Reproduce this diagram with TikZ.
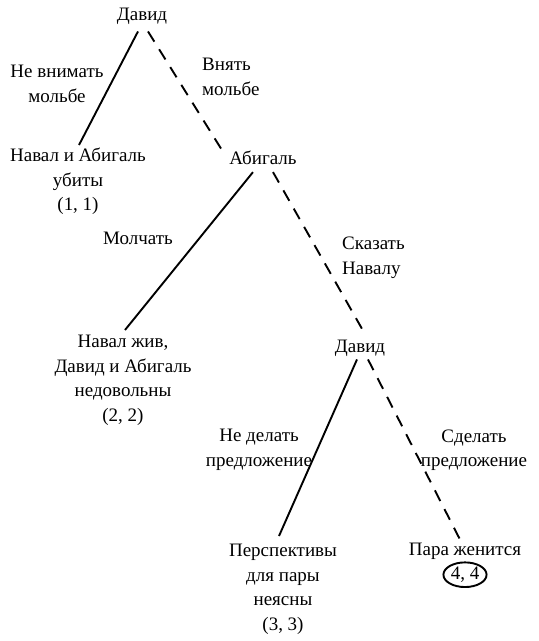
\documentclass[tikz,border=0pt]{standalone}
\usepackage{fontspec}
\setmainfont{Liberation Serif}
\usetikzlibrary{shapes.geometric}

\tikzset{
  txt/.style={font=\fontsize{19}{24.5}\selectfont, align=center, inner sep=0pt},
  lft/.style={txt, align=left, anchor=west},
  move/.style={line width=1.9pt},
  altmove/.style={line width=1.9pt, dash pattern=on 12pt off 9pt},
  best/.style={ellipse, draw, line width=1.9pt, inner sep=1pt}
}

\begin{document}
\begin{tikzpicture}[x=1pt,y=-1pt]
  \useasboundingbox (0,0) rectangle (539,641);

  % decision nodes
  \node[txt] (david1) at (142,16) {Давид};
  \node[txt] (abig) at (263,158) {Абигаль};
  \node[txt] (david2) at (360,348) {Давид};

  % outcomes
  \node[txt, anchor=north] (killed) at (78,148) {Навал и Абигаль\\убиты\\(1, 1)};
  \node[txt, anchor=north] (unhappy) at (123,335) {Навал жив,\\Давид и Абигаль\\недовольны\\(2, 2)};
  \node[txt, anchor=north] (unclear) at (283,544) {Перспективы\\для пары\\неясны\\(3, 3)};
  \node[txt] (married) at (465,551) {Пара женится};
  \node[txt, best, below=2pt] (win) at (married.south) {4, 4};

  % moves
  \draw[move] ([xshift=-4pt,yshift=-7pt]david1.south) -- ([xshift=1pt,yshift=3pt]killed.north);
  \draw[altmove] ([xshift=6pt,yshift=-7pt]david1.south) -- ([xshift=-8pt,yshift=2pt]abig.north west);
  \draw[move] ([xshift=-10pt,yshift=-7pt]abig.south) -- ([xshift=2pt,yshift=5pt]unhappy.north);
  \draw[altmove] ([xshift=10pt,yshift=-7pt]abig.south) -- ([xshift=3pt,yshift=9pt]david2.north);
  \draw[move] ([xshift=-3pt,yshift=-3pt]david2.south) -- ([xshift=-4pt,yshift=8pt]unclear.north);
  \draw[altmove] ([xshift=8pt,yshift=-3pt]david2.south) -- ([xshift=-5pt,yshift=3pt]married.north);

  % move labels
  \node[txt] (l1) at (57,84) {Не внимать\\мольбе};
  \node[lft] (l2) at (202,77) {Внять\\мольбе};
  \node[txt] (l3) at (138,238) {Молчать};
  \node[lft] (l4) at (342,258) {Сказать\\Навалу};
  \node[txt] (l5) at (259,450) {Не делать\\предложение};
  \node[txt] (l6) at (474,450) {Сделать\\предложение};
\end{tikzpicture}
\end{document}
